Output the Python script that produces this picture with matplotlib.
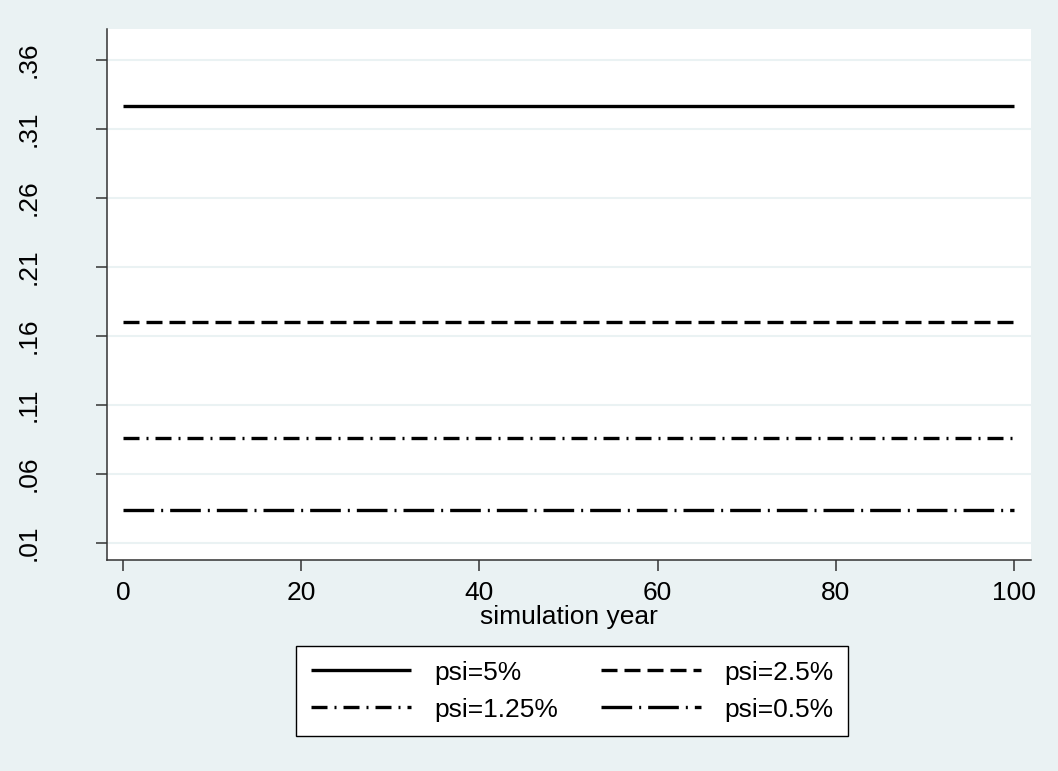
import numpy as np
import matplotlib.pyplot as plt

plt.rcParams['font.family'] = ['Liberation Sans', 'DejaVu Sans']

# simulated values for each psi setting (constant over the simulation horizon)
years = [0, 100]
psi_labels = ['psi=5%', 'psi=2.5%', 'psi=1.25%', 'psi=0.5%']
psi_values = [0.327, 0.170, 0.086, 0.034]
yticks = [0.01, 0.06, 0.11, 0.16, 0.21, 0.26, 0.31, 0.36]
ytick_labels = ['.01', '.06', '.11', '.16', '.21', '.26', '.31', '.36']
xticks = [0, 20, 40, 60, 80, 100]

bg = '#eaf2f3'
lw = 2.4
fs = 19
styles = [
    '-',
    (0, (4.8, 2.1)),
    (0, (4.8, 2.1, 0.6, 2.1)),
    (0, (9.2, 2.1, 0.6, 2.1)),
]

fig = plt.figure(figsize=(10.58, 7.71), dpi=100, facecolor=bg)
ax = fig.add_axes([0.1011, 0.2737, 0.8734, 0.6887])
ax.set_facecolor('white')

handles = []
for val, lab, ls in zip(psi_values, psi_labels, styles):
    h, = ax.plot(years, [val, val], color='black', lw=lw, linestyle=ls,
                 label=lab, solid_capstyle='butt', dash_capstyle='butt')
    handles.append(h)

ax.set_xlim(-1.8, 101.9)
ax.set_ylim(-0.0023, 0.3825)

ax.set_yticks(yticks)
ax.set_yticklabels(ytick_labels, rotation=90, va='center')
ax.set_xticks(xticks)
ax.yaxis.grid(True, color=bg, lw=1.5)
ax.set_axisbelow(True)

for s in ['top', 'right']:
    ax.spines[s].set_visible(False)
for s in ['left', 'bottom']:
    ax.spines[s].set_color('#333333')
    ax.spines[s].set_linewidth(1.1)

ax.tick_params(axis='both', direction='out', length=8, width=1.1,
               color='#333333', labelsize=fs, labelcolor='black')
ax.tick_params(axis='y', pad=40)
ax.tick_params(axis='x', pad=7)

ax.set_xlabel('simulation year', fontsize=fs, labelpad=0)

# legend is filled row by row: 5%, 2.5% / 1.25%, 0.5%
order = [0, 2, 1, 3]
leg = ax.legend([handles[i] for i in order], [psi_labels[i] for i in order],
                loc='upper center', bbox_to_anchor=(0.5035, -0.162), ncol=2,
                fontsize=fs, frameon=True, fancybox=False, framealpha=1,
                edgecolor='black', handlelength=3.8, handletextpad=0.9,
                columnspacing=1.6, labelspacing=0.5, borderpad=0.55,
                borderaxespad=0)
leg.get_frame().set_linewidth(1.0)

fig.savefig('out.png', dpi=100, facecolor=bg)
